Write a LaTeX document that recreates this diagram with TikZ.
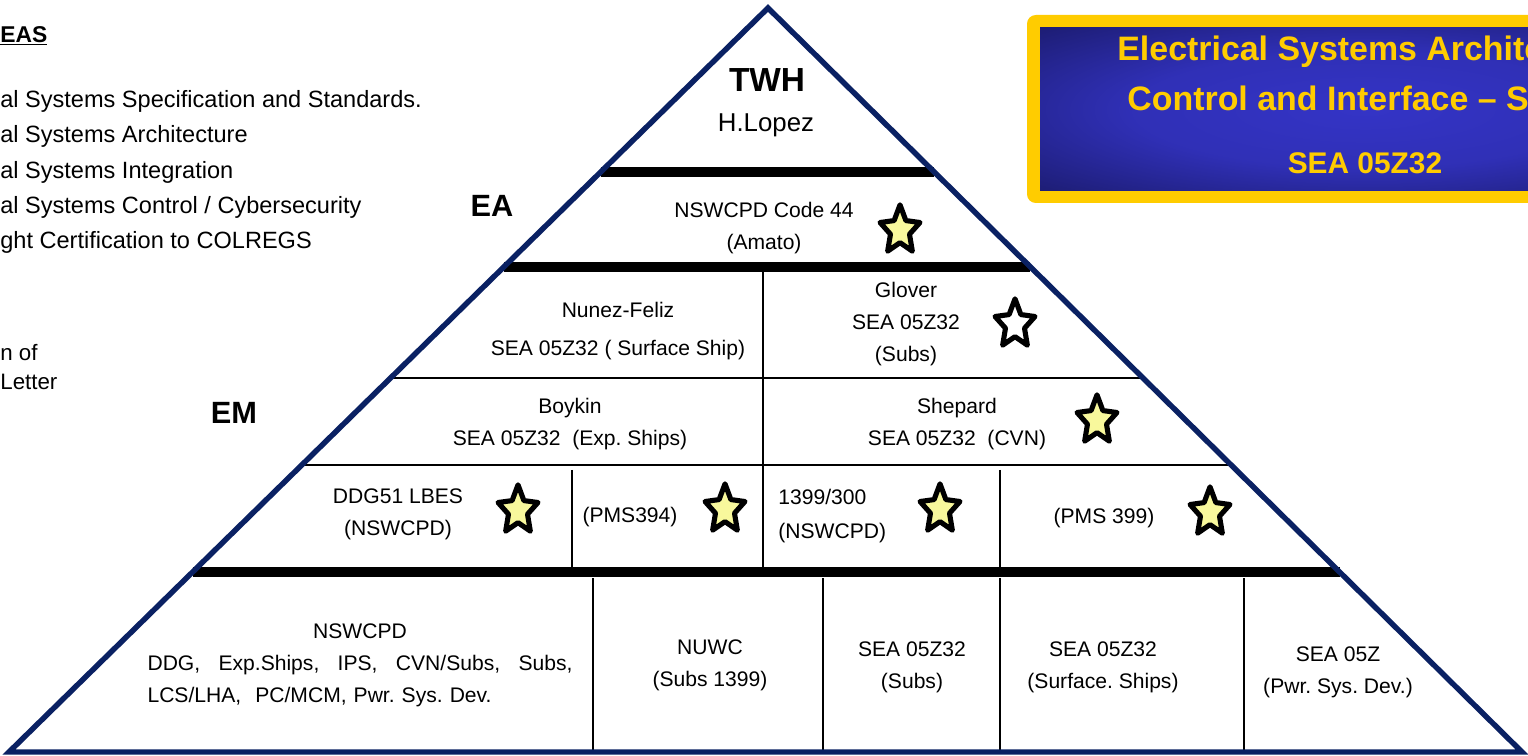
\documentclass[tikz,border=0pt]{standalone}
\usepackage{fontspec}
\setmainfont{Liberation Sans}
\usetikzlibrary{calc,shapes.geometric}
\definecolor{navy}{HTML}{0A2163}
\definecolor{gold}{HTML}{FFCC00}
\definecolor{deepblue}{HTML}{16165C}
\definecolor{brightblue}{HTML}{3434C6}
\definecolor{staryellow}{HTML}{F8F89C}
\pgfdeclareradialshading{titleglow}{\pgfpoint{0bp}{0bp}}{color(0bp)=(brightblue); color(18bp)=(brightblue!85!deepblue); color(42bp)=(deepblue); color(80bp)=(deepblue)}

\begin{document}
\begin{tikzpicture}[
    x=0.02cm, y=-0.02cm,
    pyramid/.style={draw=navy, line width=3.1pt, line join=miter},
    thickbar/.style={line width=5.7pt},
    thinrule/.style={line width=1.1pt},
    lbl/.style={font=\fontsize{12}{18.2}\selectfont\frenchspacing, align=center, inner sep=0pt},
    tier/.style={font=\bfseries\fontsize{17.5}{20}\selectfont, inner sep=0pt},
    award/.style={star, star points=5, star point ratio=2.1, draw=black, line width=2.9pt, line join=round, minimum size=0.84cm, inner sep=0pt},
    headline/.style={font=\bfseries\fontsize{19.3}{23}\selectfont, text=gold, inner sep=0pt, anchor=west},
]
\useasboundingbox (0,0) rectangle (1528,756);
\clip (0,0) rectangle (1528,756);
\fill[white] (0,0) rectangle (1528,756);

% --- Left notes ---
\node[anchor=west, inner sep=0pt, font=\bfseries\fontsize{13}{16}\selectfont] (areas) at (0,36) {\underline{EAS}};
\node[anchor=west, inner sep=0pt, align=left, font=\fontsize{13.4}{20}\selectfont] (duties) at (0,172) {al Systems Specification and Standards.\\al Systems Architecture\\al Systems Integration\\al Systems Control / Cybersecurity\\ght Certification to COLREGS};
\node[anchor=west, inner sep=0pt, align=left, font=\fontsize{12.7}{16}\selectfont] (remark) at (0,367) {n of\\Letter};

% --- Title banner ---
\fill[gold, rounded corners=5pt] (1027,15) rectangle (1700,203);
\shade[shading=titleglow] (1040,28) rectangle (1690,191);
\node[headline] (title1) at (1117,52) {Electrical Systems Archite};
\node[headline] (title2) at (1127,98) {Control and Interface -- S};
\node[headline, anchor=center, font=\bfseries\fontsize{17}{20}\selectfont] (title3) at (1365,163) {SEA 05Z32};

% --- Pyramid ---
\coordinate (top) at (768,8);
\coordinate (bl) at (9,752);
\coordinate (br) at (1522,752);

\foreach \yy/\kind in {172/thickbar, 267/thickbar, 378/thinrule, 465/thinrule, 572/thickbar}
  \draw[\kind] ($(top)!{(\yy-8)/744}!(bl)$) -- ($(top)!{(\yy-8)/744}!(br)$);

\draw[thinrule] (763,272) -- (763,567);
\draw[thinrule] (572,470) -- (572,567);
\draw[thinrule] (1000,470) -- (1000,567);
\foreach \xx in {593,823,1000,1244}
  \draw[thinrule] (\xx,578) -- (\xx,750);

\draw[pyramid] (top) -- (br) -- (bl) -- cycle;

% --- Tier labels ---
\node[tier] (ea) at (492,206) {EA};
\node[tier] (em) at (234,413) {EM};

% --- Cells ---
\node[tier, font=\bfseries\fontsize{19}{20}\selectfont] (twh) at (767,80) {TWH};
\node[lbl, font=\fontsize{14.7}{18}\selectfont] (lopez) at (766,125) {H.Lopez};
\node[lbl] (code44) at (764,228) {NSWCPD Code 44\\(Amato)};
\node[lbl] (nunez) at (618,331) {Nunez-Feliz\\[3pt]SEA 05Z32 ( Surface Ship)};
\node[lbl] (glover) at (906,324) {Glover\\SEA 05Z32\\(Subs)};
\node[lbl] (boykin) at (570,424) {Boykin\\SEA 05Z32~~(Exp. Ships)};
\node[lbl] (shepard) at (957,424) {Shepard\\SEA 05Z32~~(CVN)};
\node[lbl] (lbes) at (398,514) {DDG51 LBES\\(NSWCPD)};
\node[lbl] (pms394) at (630,517) {(PMS394)};
\node[lbl, align=left, anchor=west] (sub1399) at (778,516) {1399/300\\[1pt](NSWCPD)};
\node[lbl] (pms399) at (1104,518) {(PMS 399)};
\node[lbl, text width=8.5cm] (nswcpd) at (360,665) {NSWCPD\\\makebox[8.5cm][s]{DDG,\hfill Exp.Ships,\hfill IPS,\hfill CVN/Subs,\hfill Subs,}\\\makebox[8.5cm][l]{LCS/LHA,\ \ PC/MCM, Pwr. Sys. Dev.}};
\node[lbl] (nuwc) at (710,665) {NUWC\\(Subs 1399)};
\node[lbl] (subs) at (912,667) {SEA 05Z32\\(Subs)};
\node[lbl] (surface) at (1103,667) {SEA 05Z32\\(Surface. Ships)};
\node[lbl] (pwrsys) at (1338,672) {SEA 05Z\\(Pwr. Sys. Dev.)};

% --- Stars ---
\foreach \sx/\sy/\fc [count=\i] in {900/228/staryellow, 1015/322/white, 1097/418/staryellow, 518/508/staryellow, 725/507/staryellow, 940/507/staryellow, 1210/510/staryellow}{
  \begin{scope}[shift={(\sx,\sy)}, yscale=1.22]
    \node[award, fill=\fc, transform shape] (star\i) at (0,2) {};
  \end{scope}
}

\end{tikzpicture}
\end{document}
